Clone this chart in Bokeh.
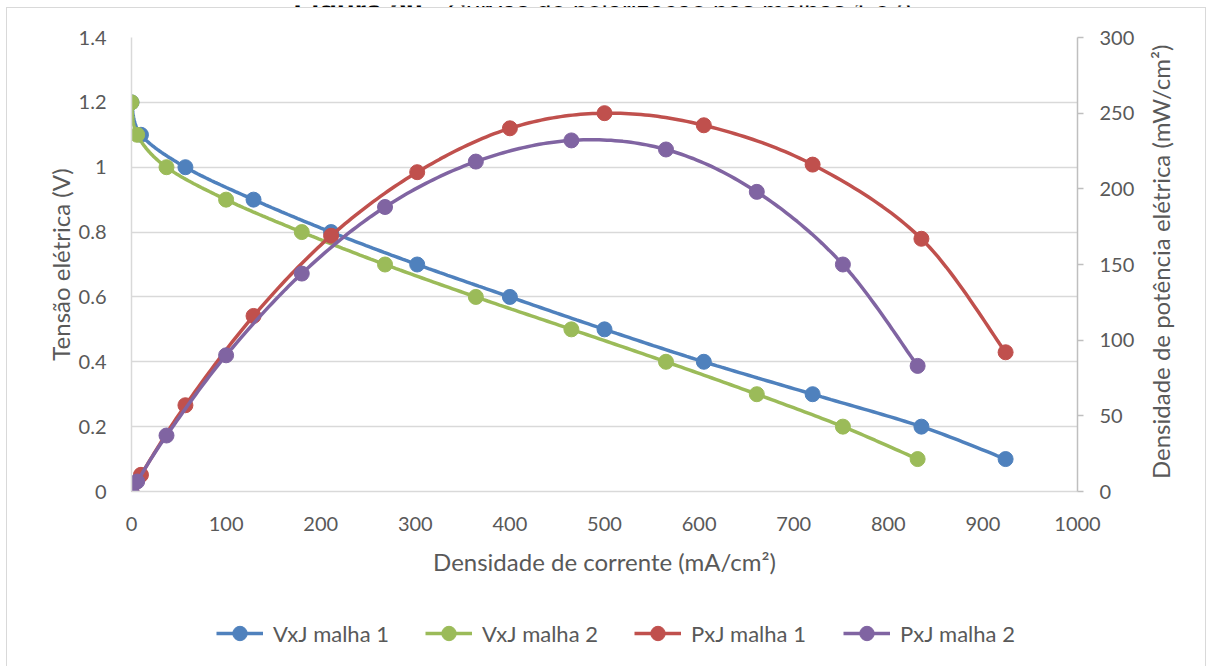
import numpy as np
from bokeh.plotting import figure
from bokeh.layouts import column, row
from bokeh.models import (Range1d, LinearAxis, FixedTicker, Legend, LegendItem,
                          InlineStyleSheet)
from bokeh.core.properties import value
from bokeh.embed import file_html
from bokeh.resources import INLINE

# Current density (mA/cm²), cell voltage (V) and power density (mW/cm²)
j_malha1 = [0, 10, 57, 129, 211, 302, 400, 500, 605, 720, 835, 924]
v_malha1 = [1.2, 1.1, 1.0, 0.9, 0.8, 0.7, 0.6, 0.5, 0.4, 0.3, 0.2, 0.1]
p_malha1 = [0, 11, 57, 116, 169, 211, 240, 250, 242, 216, 167, 92]

j_malha2 = [0, 6, 37, 100, 180, 268, 364, 465, 565, 661, 752, 831]
v_malha2 = [1.2, 1.1, 1.0, 0.9, 0.8, 0.7, 0.6, 0.5, 0.4, 0.3, 0.2, 0.1]
p_malha2 = [0, 6.6, 37, 90, 144, 188, 218, 232, 226, 198, 150, 83]

x_ticks = [0, 100, 200, 300, 400, 500, 600, 700, 800, 900, 1000]
v_ticks = [0, 0.2, 0.4, 0.6, 0.8, 1.0, 1.2, 1.4]
v_tick_labels = ["0", "0.2", "0.4", "0.6", "0.8", "1", "1.2", "1.4"]
p_ticks = [0, 50, 100, 150, 200, 250, 300]

caption_bold = "Figura 28"
caption_rest = "– Curvas de polarização nas malhas 1 e 2."
x_title = "Densidade de corrente (mA/cm²)"
v_title = "Tensão elétrica (V)"
p_title = "Densidade de potência elétrica (mW/cm²)"

BLUE, GREEN, RED, PURPLE = "#4F81BD", "#9BBB59", "#C0504D", "#8064A2"
TXT = "#595959"
GRID = "#D9D9D9"
FONT = "Lato"
TITLE_SIZE = "24px"


def smooth(xs, ys, n=24):
    """Bezier smoothing through the points (Catmull-Rom control points)."""
    pts = np.column_stack([xs, ys]).astype(float)
    out = [pts[0]]
    t = np.linspace(0, 1, n + 1)[1:, None]
    for i in range(len(pts) - 1):
        p0 = pts[i - 1] if i > 0 else pts[i]
        p1, p2 = pts[i], pts[i + 1]
        p3 = pts[i + 2] if i + 2 < len(pts) else pts[i + 1]
        c1 = p1 + (p2 - p0) / 6.0
        c2 = p2 - (p3 - p1) / 6.0
        seg = ((1 - t) ** 3) * p1 + 3 * ((1 - t) ** 2) * t * c1 \
            + 3 * (1 - t) * (t ** 2) * c2 + (t ** 3) * p2
        out.extend(seg)
    out = np.array(out)
    return out[:, 0], out[:, 1]


def blank(width, height, xr, yr):
    """Axis-less figure whose frame fills the whole canvas."""
    f = figure(width=width, height=height, output_backend="svg",
               toolbar_location=None, x_range=Range1d(*xr), y_range=Range1d(*yr),
               min_border=0, x_axis_location=None, y_axis_location=None)
    f.outline_line_color = None
    f.xgrid.visible = False
    f.ygrid.visible = False
    return f


# --- caption strip (only the lower part of the caption line fits) ---
cap = blank(1209, 7, (0, 1209), (0, 7))
cap.text(x=[293], y=[1.5], text=[caption_bold], text_align="left",
         text_baseline="alphabetic", text_font=value("Liberation Sans"),
         text_font_style="bold", text_font_size="29px", text_color="black")
cap.text(x=[425], y=[1.5], text=[caption_rest], text_align="left",
         text_baseline="alphabetic", text_font=value("Liberation Sans"),
         text_font_size="26px", text_color="black")

# --- main chart ---
chart = figure(frame_width=946, frame_height=454, output_backend="svg",
               toolbar_location=None,
               x_range=Range1d(0, 1000), y_range=Range1d(0, 1.4),
               min_border_left=131, min_border_right=61,
               min_border_top=30, min_border_bottom=109)
chart.extra_y_ranges = {"power": Range1d(0, 300)}
chart.outline_line_color = None
chart.background_fill_color = "white"
chart.border_fill_color = "white"

left = chart.left[0]
bottom = chart.below[0]
right = LinearAxis(y_range_name="power")
chart.add_layout(right, "right")

bottom.ticker = FixedTicker(ticks=x_ticks)
left.ticker = FixedTicker(ticks=v_ticks)
left.major_label_overrides = dict(zip(v_ticks, v_tick_labels))
right.ticker = FixedTicker(ticks=p_ticks)

for ax in (left, bottom, right):
    ax.major_label_text_font = FONT
    ax.major_label_text_font_size = "20px"
    ax.major_label_text_color = TXT
    ax.axis_label_text_font = FONT
    ax.axis_label_text_font_size = TITLE_SIZE
    ax.axis_label_text_font_style = "normal"
    ax.axis_label_text_color = TXT
    ax.minor_tick_line_color = None

for ax in (left, bottom):
    ax.axis_line_color = GRID
    ax.axis_line_width = 1.5
    ax.major_tick_line_color = None
    ax.major_label_standoff = 19

right.axis_line_color = "#BFBFBF"
right.axis_line_width = 1.5
right.major_tick_line_color = "#BFBFBF"
right.major_tick_line_width = 1.5
right.major_tick_in = 0
right.major_tick_out = 6
right.major_label_standoff = 16

left.axis_label = v_title
bottom.axis_label = x_title
left.axis_label_standoff = 1
bottom.axis_label_standoff = 13

chart.xgrid.visible = False
chart.ygrid.ticker = left.ticker
chart.ygrid.grid_line_color = GRID
chart.ygrid.grid_line_width = 1.5

series = [
    ("VxJ malha 1", j_malha1, v_malha1, BLUE, "default"),
    ("VxJ malha 2", j_malha2, v_malha2, GREEN, "default"),
    ("PxJ malha 1", j_malha1, p_malha1, RED, "power"),
    ("PxJ malha 2", j_malha2, p_malha2, PURPLE, "power"),
]

for name, xs, ys, color, rng in series:
    sx, sy = smooth(xs, ys)
    chart.line(sx, sy, line_color=color, line_width=3.5, y_range_name=rng)
    chart.scatter(xs, ys, size=15, fill_color=color, line_color=color,
                  y_range_name=rng)

# --- right-hand axis title, reading bottom to top ---
strip = blank(71, 593, (0, 71), (0, 593))
strip.text(x=[22], y=[300], text=[p_title], angle=np.pi / 2,
           text_align="center", text_baseline="middle",
           text_font=value(FONT), text_font_size=TITLE_SIZE, text_color=TXT)

# --- legend row: key glyphs only (a single NaN row, nothing is plotted) ---
legfig = blank(1209, 66, (0, 1), (0, 1))
items = []
for name, xs, ys, color, rng in series:
    ln = legfig.line([np.nan], [np.nan], line_color=color, line_width=3.5)
    mk = legfig.scatter([np.nan], [np.nan], size=15, fill_color=color,
                        line_color=color)
    items.append(LegendItem(label=name, renderers=[ln, mk]))

legend = Legend(items=items, orientation="horizontal", location=(216, 15),
                glyph_width=47, glyph_height=36, label_standoff=10,
                label_width=120, spacing=32, padding=0, margin=0,
                border_line_color=None, background_fill_alpha=0,
                label_text_font=FONT, label_text_font_size="22px",
                label_text_color=TXT)
legfig.add_layout(legend)

# light frame around the whole chart area
frame_css = InlineStyleSheet(css="""
:host::after {
  content: ""; position: absolute; left: 6px; top: 7px;
  width: 1198px; height: 700px; border: 1.5px solid #D9D9D9;
  pointer-events: none; z-index: 10;
}
""")

p = column(cap, row(chart, strip, spacing=0), legfig, spacing=0)
p.stylesheets = [frame_css]

open("out.html", "w").write(file_html(p, INLINE))
